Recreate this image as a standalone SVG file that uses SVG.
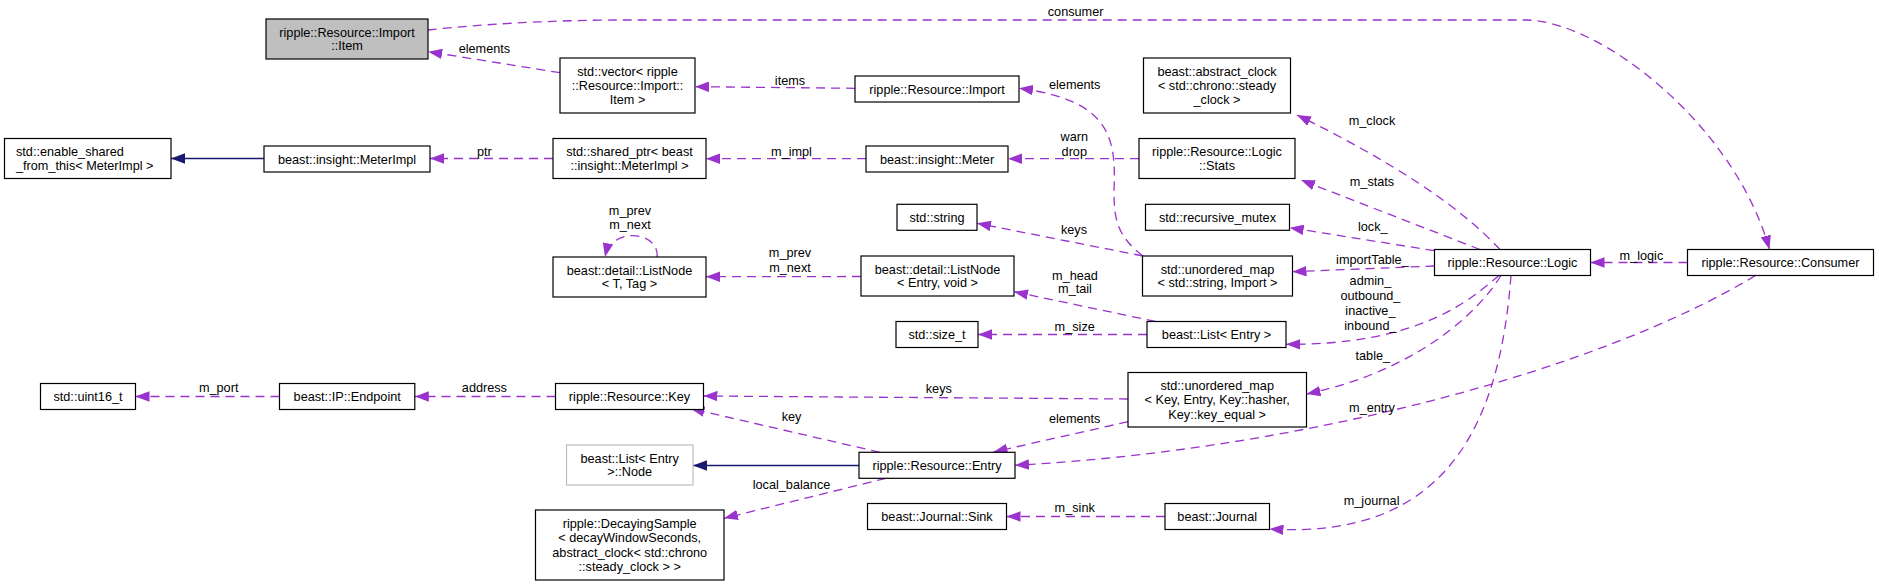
<svg xmlns="http://www.w3.org/2000/svg" width="1879" height="586" viewBox="0 0 1879 586">
<style>
text{font-family:"Liberation Sans",Arial,Helvetica,sans-serif;font-size:12.7px;fill:#000}
.c{text-anchor:middle}
.b{fill:#fff;stroke:#000;stroke-width:1.2}
.g{fill:#bfbfbf;stroke:#000;stroke-width:1.2}
.h{fill:#fff;stroke:#bfbfbf;stroke-width:1.2}
.e{fill:none;stroke:#9a32cd;stroke-width:1.3;stroke-dasharray:9,6}
.i{fill:none;stroke:#191970;stroke-width:1.3}
</style>
<defs>
<marker id="ap" markerUnits="userSpaceOnUse" markerWidth="14" markerHeight="10.5" refX="14" refY="5.25" orient="auto" viewBox="0 0 14 10.5"><path d="M0,0 L14,5.25 L0,10.5 Z" fill="#9a32cd" stroke="none"/></marker>
<marker id="an" markerUnits="userSpaceOnUse" markerWidth="14" markerHeight="10.5" refX="14" refY="5.25" orient="auto" viewBox="0 0 14 10.5"><path d="M0,0 L14,5.25 L0,10.5 Z" fill="#191970" stroke="none"/></marker>
</defs>

<g id="connectors">
<path class="e" marker-end="url(#ap)" d="M428,30 C480,24 560,20 620,20 L1525,20 C1600,20 1735,125 1769.5,249.5"/>
<path class="e" marker-end="url(#ap)" d="M560,72.7 L428.2,51.7"/>
<path class="e" marker-end="url(#ap)" d="M855,88.3 L695,86.7"/>
<path class="e" marker-end="url(#ap)" d="M553,158.5 L430,158.5"/>
<path class="i" marker-end="url(#an)" d="M264,158.5 L171,158.5"/>
<path class="e" marker-end="url(#ap)" d="M866,158.7 L706,158.7"/>
<path class="e" marker-end="url(#ap)" d="M1139,158.7 L1008,158.7"/>
<path class="e" marker-end="url(#ap)" d="M1143,256 C1115,235 1114,215 1114,190 C1116,140 1112,100 1019,88.3"/>
<path class="e" marker-end="url(#ap)" d="M1143,256 L977,223.3"/>
<path class="e" marker-end="url(#ap)" d="M861,276.5 L706,276.7"/>
<path class="e" marker-end="url(#ap)" d="M657,257 C660,232 612,225 605,257"/>
<path class="e" marker-end="url(#ap)" d="M1155.6,321.5 L1014,291.7"/>
<path class="e" marker-end="url(#ap)" d="M1147,334.5 L978,334.5"/>
<path class="e" marker-end="url(#ap)" d="M1500,249.5 Q1440,185 1297,115"/>
<path class="e" marker-end="url(#ap)" d="M1480,249.5 L1301,180"/>
<path class="e" marker-end="url(#ap)" d="M1434.5,250.7 L1289.7,227.7"/>
<path class="e" marker-end="url(#ap)" d="M1434.5,266 L1292.5,271.7"/>
<path class="e" marker-end="url(#ap)" d="M1687.5,262.5 L1590.5,262.5"/>
<path class="e" marker-end="url(#ap)" d="M1499,275.5 C1470,300 1420,345 1286,344.3"/>
<path class="e" marker-end="url(#ap)" d="M1501,275.5 C1480,310 1420,370 1306.5,394"/>
<path class="e" marker-end="url(#ap)" d="M1511,275.5 C1500,420 1450,540 1269.5,529"/>
<path class="e" marker-end="url(#ap)" d="M1755.5,275.5 C1600,370 1300,450 1015,465.3"/>
<path class="e" marker-end="url(#ap)" d="M1128,399 L703.5,396"/>
<path class="e" marker-end="url(#ap)" d="M1128,421.7 L993.5,452"/>
<path class="e" marker-end="url(#ap)" d="M880,452.3 L690.5,408.5"/>
<path class="i" marker-end="url(#an)" d="M859,465.5 L693,465.5"/>
<path class="e" marker-end="url(#ap)" d="M886,478.3 L724,518.3"/>
<path class="e" marker-end="url(#ap)" d="M1165,516.5 L1006.5,516.5"/>
<path class="e" marker-end="url(#ap)" d="M279.5,396.5 L135.5,396.5"/>
<path class="e" marker-end="url(#ap)" d="M555.5,396.5 L414.8,396.5"/>

<text class="c" x="1075.6" y="16.2">consumer</text>
<text class="c" x="484.4" y="52.5">elements</text>
<text class="c" x="790" y="84.5">items</text>
<text class="c" x="1074.7" y="88.8">elements</text>
<text class="c" x="484.4" y="155.5">ptr</text>
<text class="c" x="791.5" y="155.5">m_impl</text>
<text class="c" x="1074.3" y="140.5">warn</text>
<text class="c" x="1074.3" y="155.5">drop</text>
<text class="c" x="1372" y="125.2">m_clock</text>
<text class="c" x="1372" y="185.5">m_stats</text>
<text class="c" x="630" y="214.5">m_prev</text>
<text class="c" x="630" y="228.8">m_next</text>
<text class="c" x="1074" y="233.5">keys</text>
<text class="c" x="1372.8" y="231.2">lock_</text>
<text class="c" x="790" y="257.2">m_prev</text>
<text class="c" x="790" y="272.2">m_next</text>
<text class="c" x="1641.4" y="259.5">m_logic</text>
<text class="c" x="1372.4" y="263.8">importTable_</text>
<text class="c" x="1075" y="279.5">m_head</text>
<text class="c" x="1075" y="292.5">m_tail</text>
<text class="c" x="1370.4" y="284.5">admin_</text>
<text class="c" x="1370.4" y="300.2">outbound_</text>
<text class="c" x="1370.4" y="315.2">inactive_</text>
<text class="c" x="1370.4" y="329.5">inbound_</text>
<text class="c" x="1074.7" y="331.2">m_size</text>
<text class="c" x="1372.8" y="360.2">table_</text>
<text class="c" x="218.7" y="391.8">m_port</text>
<text class="c" x="484.4" y="391.8">address</text>
<text class="c" x="938.8" y="393.2">keys</text>
<text class="c" x="1372" y="411.5">m_entry</text>
<text class="c" x="791.5" y="420.5">key</text>
<text class="c" x="1074.7" y="423.2">elements</text>
<text class="c" x="791.5" y="488.8">local_balance</text>
<text class="c" x="1371.6" y="504.5">m_journal</text>
<text class="c" x="1074.7" y="512.2">m_sink</text>
</g>

<g id="item"><rect class="g" x="266" y="19" width="162" height="40"/><text class="c" x="347" y="36.8">ripple::Resource::Import</text><text class="c" x="347" y="50.2">::Item</text></g>
<g id="vector"><rect class="b" x="560" y="58" width="135" height="55"/><text class="c" x="627.5" y="75.7">std::vector&lt; ripple</text><text class="c" x="627.5" y="90">::Resource::Import::</text><text class="c" x="627.5" y="104.3">Item &gt;</text></g>
<g id="import"><rect class="b" x="855" y="76" width="164" height="26"/><text class="c" x="937" y="93.5">ripple::Resource::Import</text></g>
<g id="abstract_clock"><rect class="b" x="1143.5" y="58" width="147" height="55"/><text class="c" x="1217" y="75.7">beast::abstract_clock</text><text class="c" x="1217" y="90">&lt; std::chrono::steady</text><text class="c" x="1217" y="104.3">_clock &gt;</text></g>
<g id="enable_shared"><rect class="b" x="4.5" y="138.5" width="166.5" height="40"/><text x="16" y="156.3">std::enable_shared</text><text x="16" y="169.7">_from_this&lt; MeterImpl &gt;</text></g>
<g id="meterimpl"><rect class="b" x="264" y="146" width="166" height="26"/><text class="c" x="347" y="163.5">beast::insight::MeterImpl</text></g>
<g id="shared_ptr"><rect class="b" x="553" y="138.5" width="153" height="40"/><text class="c" x="629.5" y="156.3">std::shared_ptr&lt; beast</text><text class="c" x="629.5" y="169.7">::insight::MeterImpl &gt;</text></g>
<g id="meter"><rect class="b" x="866" y="146" width="142" height="26"/><text class="c" x="937" y="163.5">beast::insight::Meter</text></g>
<g id="stats"><rect class="b" x="1139" y="138.5" width="156" height="40"/><text class="c" x="1217" y="156.3">ripple::Resource::Logic</text><text class="c" x="1217" y="169.7">::Stats</text></g>
<g id="listnode_t"><rect class="b" x="553" y="257" width="153" height="40"/><text class="c" x="629.5" y="274.8">beast::detail::ListNode</text><text class="c" x="629.5" y="288.2">&lt; T, Tag &gt;</text></g>
<g id="string"><rect class="b" x="897" y="204.3" width="80" height="26"/><text class="c" x="937" y="221.8">std::string</text></g>
<g id="recursive_mutex"><rect class="b" x="1145.5" y="204.3" width="144" height="26"/><text class="c" x="1217.5" y="221.8">std::recursive_mutex</text></g>
<g id="listnode_entry"><rect class="b" x="861" y="256" width="153" height="40"/><text class="c" x="937.5" y="273.8">beast::detail::ListNode</text><text class="c" x="937.5" y="287.2">&lt; Entry, void &gt;</text></g>
<g id="map_import"><rect class="b" x="1142.5" y="256" width="150" height="40"/><text class="c" x="1217.5" y="273.8">std::unordered_map</text><text class="c" x="1217.5" y="287.2">&lt; std::string, Import &gt;</text></g>
<g id="logic"><rect class="b" x="1434.5" y="249.5" width="156" height="26"/><text class="c" x="1512.5" y="267">ripple::Resource::Logic</text></g>
<g id="consumer"><rect class="b" x="1687.5" y="249.5" width="186" height="26"/><text class="c" x="1780.5" y="267">ripple::Resource::Consumer</text></g>
<g id="size_t"><rect class="b" x="896" y="321.5" width="82" height="26"/><text class="c" x="937" y="339">std::size_t</text></g>
<g id="list_entry"><rect class="b" x="1147" y="321.5" width="139" height="26"/><text class="c" x="1216.5" y="339">beast::List&lt; Entry &gt;</text></g>
<g id="uint16"><rect class="b" x="40.5" y="383.5" width="95" height="26"/><text class="c" x="88" y="401">std::uint16_t</text></g>
<g id="endpoint"><rect class="b" x="279.5" y="383.5" width="135.3" height="26"/><text class="c" x="347.2" y="401">beast::IP::Endpoint</text></g>
<g id="key"><rect class="b" x="555.5" y="383.5" width="148" height="26"/><text class="c" x="629.5" y="401">ripple::Resource::Key</text></g>
<g id="map_key"><rect class="b" x="1128" y="372.5" width="178.5" height="54.5"/><text class="c" x="1217.2" y="390">std::unordered_map</text><text class="c" x="1217.2" y="404.3">&lt; Key, Entry, Key::hasher,</text><text class="c" x="1217.2" y="418.6">Key::key_equal &gt;</text></g>
<g id="list_node"><rect class="h" x="566.5" y="445" width="126.5" height="40"/><text class="c" x="629.7" y="462.8">beast::List&lt; Entry</text><text class="c" x="629.7" y="476.2">&gt;::Node</text></g>
<g id="entry"><rect class="b" x="859" y="452.3" width="156" height="26"/><text class="c" x="937" y="469.8">ripple::Resource::Entry</text></g>
<g id="decaying"><rect class="b" x="535.5" y="510" width="188.5" height="70"/><text class="c" x="629.7" y="528">ripple::DecayingSample</text><text class="c" x="629.7" y="542.3">&lt; decayWindowSeconds,</text><text class="c" x="629.7" y="556.6">abstract_clock&lt; std::chrono</text><text class="c" x="629.7" y="571">::steady_clock &gt; &gt;</text></g>
<g id="sink"><rect class="b" x="867.5" y="503.5" width="139" height="26"/><text class="c" x="937" y="521">beast::Journal::Sink</text></g>
<g id="journal"><rect class="b" x="1165" y="503.5" width="104.5" height="26"/><text class="c" x="1217.2" y="521">beast::Journal</text></g>
</svg>
